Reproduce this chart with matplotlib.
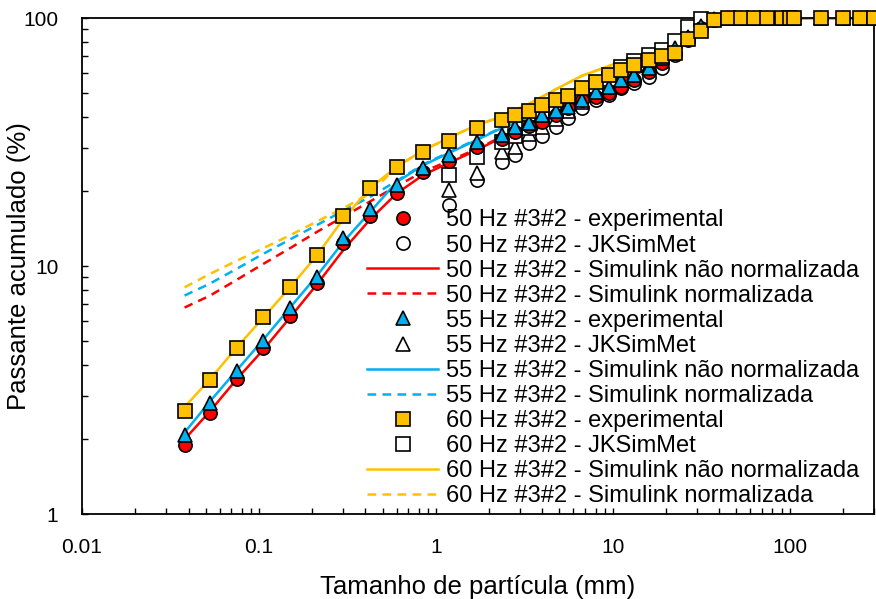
import numpy as np
import matplotlib
matplotlib.use("Agg")
import matplotlib.pyplot as plt
from matplotlib.ticker import LogLocator, FuncFormatter, NullFormatter

plt.rcParams['font.family'] = ['Liberation Sans', 'DejaVu Sans']

# sieve sizes (mm)
x_exp = [0.038, 0.053, 0.075, 0.106, 0.15, 0.212, 0.3, 0.425, 0.6, 0.85, 1.18, 1.7,
         2.36, 2.8, 3.35, 4.0, 4.75, 5.6, 6.7, 8.0, 9.5, 11.2, 13.2, 16.0, 19.0, 22.4,
         26.5, 31.5, 37.5, 45.0, 53.0, 63.0, 75.0, 90.0, 100.0, 106.0, 150.0, 200.0,
         250.0, 300.0]

# experimental (% passing)
exp50 = [1.9, 2.55, 3.5, 4.67, 6.28, 8.54, 12.4, 15.9, 19.7, 23.9, 26.5, 30.2,
         32.5, 34.7, 36.7, 38.1, 40.6, 43.4, 46.7, 48.0, 49.9, 52.7, 56.2, 60.6, 65.9, 72.3,
         81.5, 91.0, 98.2, 100, 100, 100, 100, 100, 100, 100, 100, 100, 100, 100]
exp55 = [2.08, 2.8, 3.78, 4.99, 6.78, 9.04, 12.97, 17.0, 21.2, 24.8, 28.0, 31.6,
         33.7, 36.3, 37.7, 40.6, 42.2, 43.8, 46.7, 50.3, 52.7, 56.2, 58.9, 62.9, 69.0, 75.7,
         83.8, 92.8, 99.0, 100, 100, 100, 100, 100, 100, 100, 100, 100, 100, 100]
exp60 = [2.6, 3.47, 4.67, 6.22, 8.22, 11.07, 15.9, 20.6, 25.1, 28.8, 31.9, 36.0,
         38.8, 40.6, 42.2, 44.6, 46.7, 48.4, 52.2, 55.2, 58.9, 61.7, 64.6, 67.7, 70.0, 72.0,
         82.0, 89.0, 98.0, 100, 100, 100, 100, 100, 100, 100, 100, 100, 100, 100]

# JKSimMet
x_jk = [1.18, 1.7, 2.36, 2.8, 3.35, 4.0, 4.75, 5.6, 6.7, 8.0, 9.5, 11.2, 13.2, 16.0,
        19.0, 22.4, 26.5, 31.5]
jk50 = [17.6, 22.2, 26.3, 28.0, 31.3, 33.4, 36.3, 39.5, 43.4, 46.7, 49.0, 52.2, 54.7,
        57.8, 62.9, 70.9, 82.0, 93.0]
jk55 = [20.3, 23.7, 28.8, 30.2, 34.0, 36.5, 39.0, 42.0, 46.0, 49.5, 52.5, 56.0, 59.5,
        64.0, 71.0, 80.0, 90.0, 98.0]
jk60 = [23.3, 27.5, 31.6, 33.5, 36.0, 39.0, 42.0, 45.0, 49.0, 53.0, 57.0, 63.5, 67.0,
        71.0, 74.0, 81.0, 92.0, 99.0]

# Simulink curves
x_sim = [0.038, 0.053, 0.075, 0.106, 0.15, 0.212, 0.3, 0.425, 0.6, 0.85, 1.18, 1.7,
         2.36, 3.35, 4.75, 6.7, 9.5, 13.2, 19.0, 26.5, 37.5, 300.0]
sim50 = [2.0, 2.6, 3.5, 4.6, 6.2, 8.4, 11.6, 15.4, 19.6, 23.3, 26.0, 29.3,
         33.0, 36.5, 41.5, 46.5, 52.5, 58.5, 68.0, 82.0, 100, 100]
sim50n = [6.8, 7.6, 8.8, 10.2, 11.8, 13.7, 15.8, 18.2, 21.0, 24.0, 26.5, 29.6,
          33.2, 36.8, 41.8, 46.8, 52.8, 58.8, 68.3, 82.3, 100, 100]
sim55 = [2.13, 2.85, 3.8, 5.05, 6.8, 9.1, 12.5, 16.5, 21.8, 25.5, 28.5, 32.2,
         36.0, 39.5, 44.0, 49.5, 55.0, 61.0, 71.0, 84.0, 100, 100]
sim55n = [7.6, 8.5, 9.75, 11.2, 12.8, 14.6, 16.7, 19.0, 22.0, 25.7, 28.7, 32.4,
          36.2, 39.7, 44.2, 49.7, 55.2, 61.2, 71.2, 84.2, 100, 100]
sim60 = [2.7, 3.5, 4.7, 6.2, 8.2, 11.0, 15.5, 20.6, 25.1, 29.3, 32.8, 37.0,
         40.0, 45.0, 51.5, 58.5, 64.0, 69.5, 76.0, 87.0, 100, 100]
sim60n = [8.2, 9.3, 10.5, 11.8, 13.3, 15.1, 17.1, 19.6, 25.1, 29.3, 32.8, 37.0,
          40.0, 45.0, 51.5, 58.5, 64.0, 69.5, 76.0, 87.0, 100, 100]

RED = '#FF0000'
BLUE = '#00B0F0'
YEL = '#FFC000'

fig = plt.figure(figsize=(8.76, 5.99), dpi=100)
ax = fig.add_axes([82/876, 85/599, 792/876, 496/599])

ms = 9.5
mew = 1.2
lw = 1.8
dash = (3.5, 2.5)

ax.plot(x_exp, exp50, 'o', ms=ms, mfc=RED, mec='black', mew=mew, clip_on=False, zorder=4,
        label='50 Hz #3#2 - experimental')
ax.plot(x_jk, jk50, 'o', ms=ms, mfc='white', mec='black', mew=mew, clip_on=False, zorder=3,
        label='50 Hz #3#2 - JKSimMet')
ax.plot(x_sim, sim50, '-', color=RED, lw=lw, label='50 Hz #3#2 - Simulink não normalizada')
ax.plot(x_sim, sim50n, '--', color=RED, lw=lw, dashes=dash,
        label='50 Hz #3#2 - Simulink normalizada')
ax.plot(x_exp, exp55, '^', ms=ms, mfc=BLUE, mec='black', mew=mew, clip_on=False, zorder=4,
        label='55 Hz #3#2 - experimental')
ax.plot(x_jk, jk55, '^', ms=ms, mfc='white', mec='black', mew=mew, clip_on=False, zorder=3,
        label='55 Hz #3#2 - JKSimMet')
ax.plot(x_sim, sim55, '-', color=BLUE, lw=lw, label='55 Hz #3#2 - Simulink não normalizada')
ax.plot(x_sim, sim55n, '--', color=BLUE, lw=lw, dashes=dash,
        label='55 Hz #3#2 - Simulink normalizada')
ax.plot(x_exp, exp60, 's', ms=ms, mfc=YEL, mec='black', mew=mew, clip_on=False, zorder=4,
        label='60 Hz #3#2 - experimental')
ax.plot(x_jk, jk60, 's', ms=ms, mfc='white', mec='black', mew=mew, clip_on=False, zorder=3,
        label='60 Hz #3#2 - JKSimMet')
ax.plot(x_sim, sim60, '-', color=YEL, lw=lw, label='60 Hz #3#2 - Simulink não normalizada')
ax.plot(x_sim, sim60n, '--', color=YEL, lw=lw, dashes=dash,
        label='60 Hz #3#2 - Simulink normalizada')

ax.set_xscale('log')
ax.set_yscale('log')
ax.set_xlim(0.01, 300)
ax.set_ylim(1, 100)

fmt = FuncFormatter(lambda v, p: ('%g' % v))
ax.xaxis.set_major_formatter(fmt)
ax.yaxis.set_major_formatter(fmt)
ax.xaxis.set_minor_formatter(NullFormatter())
ax.yaxis.set_minor_formatter(NullFormatter())
ax.xaxis.set_minor_locator(LogLocator(base=10, subs=np.arange(2, 10)))
ax.yaxis.set_minor_locator(LogLocator(base=10, subs=np.arange(2, 10)))

ax.tick_params(which='both', direction='in', length=4.5, width=1.0, top=False, right=False)
ax.tick_params(axis='x', which='major', pad=17, labelsize=15)
ax.tick_params(axis='y', which='major', pad=17, labelsize=15)
for s in ax.spines.values():
    s.set_linewidth(1.3)

ax.set_xlabel('Tamanho de partícula (mm)', fontsize=18.5, labelpad=13)
ax.set_ylabel('Passante acumulado (%)', fontsize=18.5)
ax.yaxis.set_label_coords(-0.064, 0.5)

ax.legend(loc='upper left', bbox_to_anchor=(0.36, 0.614), frameon=False, fontsize=17,
          borderpad=0, borderaxespad=0, handlelength=3.0, handletextpad=0.35,
          labelspacing=0.13)

fig.savefig('out.png', dpi=100)
